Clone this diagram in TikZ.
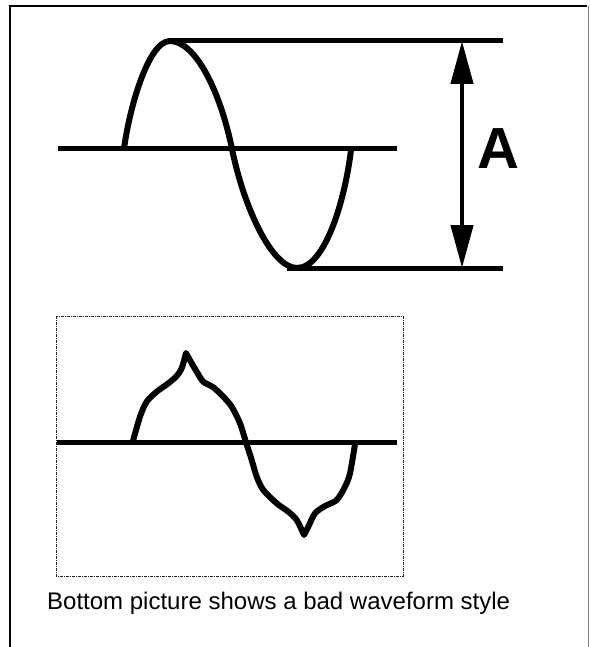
\documentclass[tikz,border=0pt]{standalone}
\usepackage{fontspec}
\setmainfont{Liberation Sans}
\usetikzlibrary{arrows.meta}

\begin{document}
\begin{tikzpicture}[
    x=1pt, y=-1pt,
    frameline/.style={line width=2pt, black},
    axisline/.style={line width=5pt, black},
    wave/.style={line width=6pt, black, line join=round},
    ampline/.style={line width=4.5pt, {Triangle[length=43pt,width=22pt]}-{Triangle[length=43pt,width=22pt]}},
    dashbox/.style={line width=1pt, black!85, dash pattern=on 3pt off 1pt on 1pt off 1pt},
    caption/.style={anchor=base west, inner sep=0pt, font=\fontsize{24}{28}\selectfont}
]
    \useasboundingbox (0,0) rectangle (589,647);

    % outer frame, open at the bottom
    \draw[frameline] (10,647) -- (10,6) -- (587,6);
    \draw[gray, line width=1pt] (588.5,6) -- (588.5,647);

    % good waveform with amplitude
    \coordinate (amptop) at (462,41);
    \coordinate (ampbot) at (462,268);
    \draw[axisline] (58,149) -- (397,149);
    \draw[axisline] (168,41) -- (503,41);
    \draw[axisline] (287,268) -- (503,268);
    \draw[wave] (124,149) .. controls (129,110) and (148,41) .. (170,41)
        .. controls (195,41) and (220,90) .. (232,149)
        .. controls (244,208) and (272,268) .. (297,268)
        .. controls (325,268) and (345,200) .. (351,150);
    \draw[ampline] (amptop) -- (ampbot);
    \node[anchor=base, inner sep=0pt, font=\fontsize{58}{60}\selectfont\bfseries] (amp) at (498,168) {A};

    % bad waveform
    \draw[dashbox] (56,316) rectangle (403,576);
    \draw[axisline] (57,442) -- (397,442);
    \draw[wave] plot[smooth, tension=0.5] coordinates {
        (133,441) (140,416.7) (146.7,401.7) (156.7,391.7) (168.3,383.3)
        (176.7,376) (181.7,368.3) (186,353)}
      -- plot[smooth, tension=0.5] coordinates {
        (186,353) (191.7,363.3) (196.7,371.7) (203.3,381.7) (213.3,387.3)
        (223.3,396.7) (231.7,406.7) (240,423.3) (246,442.3) (251.7,460)
        (256.7,476.7) (263.3,490) (276.7,503.3) (288.3,511.7) (296.7,520)
        (304,535)}
      -- plot[smooth, tension=0.5] coordinates {
        (304,535) (308.3,526.7) (315,513.3) (325,506) (336.7,500)
        (345,486.7) (350,473.3) (355,444)};

    \node[caption] (note) at (47,609) {Bottom picture shows a bad waveform style};
\end{tikzpicture}
\end{document}
